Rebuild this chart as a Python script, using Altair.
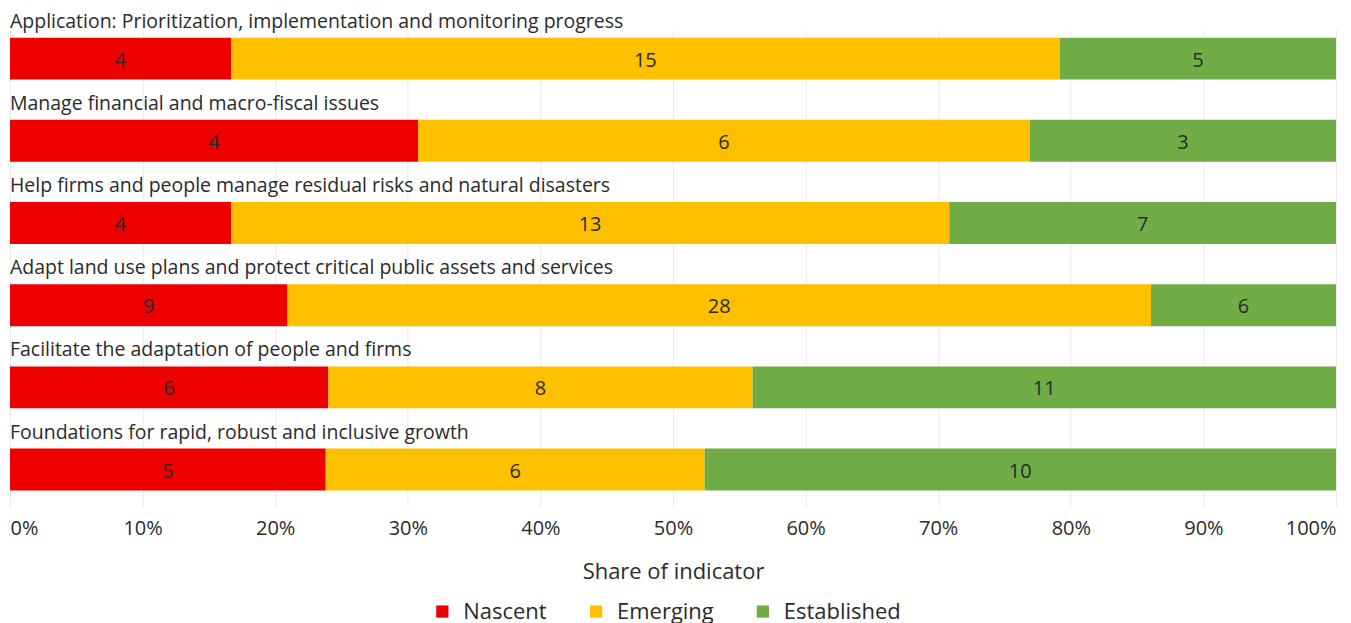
import altair as alt
import pandas as pd

categories = [
    "Application: Prioritization, implementation and monitoring progress",
    "Manage financial and macro-fiscal issues",
    "Help firms and people manage residual risks and natural disasters",
    "Adapt land use plans and protect critical public assets and services",
    "Facilitate the adaptation of people and firms",
    "Foundations for rapid, robust and inclusive growth",
]
levels = ["Nascent", "Emerging", "Established"]
nascent = [4, 4, 4, 9, 6, 5]
emerging = [15, 6, 13, 28, 8, 6]
established = [5, 3, 7, 6, 11, 10]
colors = ["#EE0000", "#FFC000", "#70AD47"]
tick_values = [i / 10 for i in range(11)]

rows = []
for i, c in enumerate(categories):
    for j, (lvl, vals) in enumerate(zip(levels, [nascent, emerging, established])):
        rows.append({"category": c, "level": lvl, "order": j, "value": vals[i]})
df = pd.DataFrame(rows)

FONT = "Open Sans"
TXT = "#2b2b2b"

base = alt.Chart(df).transform_joinaggregate(
    total="sum(value)", groupby=["category"]
).transform_window(
    cum="sum(value)", groupby=["category"], sort=[alt.SortField("order")],
    frame=[None, 0]
).transform_calculate(
    start="(datum.cum - datum.value) / datum.total",
    end="datum.cum / datum.total",
    mid="(datum.cum - datum.value / 2) / datum.total",
)

yenc = alt.Y("category:N", sort=categories, axis=None,
             scale=alt.Scale(paddingInner=0.49, paddingOuter=0.1))

bars = base.mark_bar().encode(
    x=alt.X("start:Q", scale=alt.Scale(domain=[0, 1], nice=False),
            axis=alt.Axis(values=tick_values, format=".0%", title="Share of indicator",
                          grid=True, gridColor="#ebebeb", domain=False,
                          tickColor="#ebebeb", tickSize=8, labelFlush=True,
                          labelFontSize=20, labelColor=TXT, labelPadding=12,
                          titleFontSize=22, titleColor=TXT, titleFontWeight="normal",
                          titlePadding=23, labelFont=FONT, titleFont=FONT)),
    x2="end:Q",
    y=yenc,
    color=alt.Color("level:N", scale=alt.Scale(domain=levels, range=colors),
                    legend=alt.Legend(title=None, orient="none", direction="horizontal",
                                      legendX=422, legendY=572,
                                      symbolType="square", symbolSize=150,
                                      labelFontSize=22, labelColor=TXT, labelFont=FONT,
                                      columnPadding=38, labelOffset=10,
                                      symbolStrokeWidth=0)),
    order=alt.Order("order:Q"),
)

values = base.mark_text(fontSize=20, color=TXT, font=FONT, baseline="middle", dy=2).encode(
    x="mid:Q",
    y=yenc,
    text="value:Q",
)

cat_labels = alt.Chart(pd.DataFrame({"category": categories})).mark_text(
    align="left", baseline="middle", fontSize=19.5, color=TXT, font=FONT, dx=0, dy=-37
).encode(
    x=alt.value(0),
    y=alt.Y("category:N", sort=categories, axis=None),
    text="category:N",
)

chart = alt.layer(bars, values, cat_labels).properties(
    width=1328, height=470,
    padding={"left": 1, "top": 3, "right": 6, "bottom": 2},
).configure_view(stroke=None)

chart.save("out.html", embed_options={"renderer": "svg", "actions": False})
